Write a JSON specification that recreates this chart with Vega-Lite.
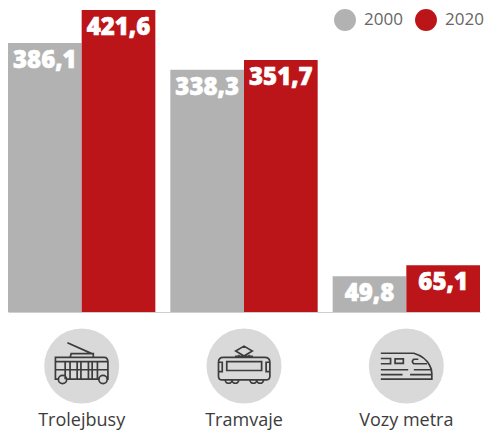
{
"$schema":"https://vega.github.io/schema/vega-lite/v6.json",
"width":472,"height":312,"padding":{"left":8,"top":0,"right":4,"bottom":119},"autosize":"none",
"background":"white",
"config":{"view":{"stroke":null},"font":"Open Sans"},
"datasets":{
"bars":[
{"typ":"Trolejbusy","rok":"2000","hodnota":375.4,"popisek":"386,1"},
{"typ":"Trolejbusy","rok":"2020","hodnota":421.6,"popisek":"421,6"},
{"typ":"Tramvaje","rok":"2000","hodnota":338.3,"popisek":"338,3"},
{"typ":"Tramvaje","rok":"2020","hodnota":351.7,"popisek":"351,7"},
{"typ":"Vozy metra","rok":"2000","hodnota":49.8,"popisek":"49,8"},
{"typ":"Vozy metra","rok":"2020","hodnota":65.1,"popisek":"65,1"}],
"icons":[{"typ":"Trolejbusy"},{"typ":"Tramvaje"},{"typ":"Vozy metra"}]},
"layer":[
{"data":{"name":"bars"},"mark":{"type":"bar","tooltip":false},
"encoding":{
"x":{"field":"typ","type":"nominal","sort":["Trolejbusy","Tramvaje","Vozy metra"],
"scale":{"paddingInner":0.0923,"paddingOuter":0},
"axis":{"title":null,"ticks":false,"labelAngle":0,"labelPadding":99,"labelFontSize":18,"labelColor":"#3c3c3c","domainColor":"#cfcfcf","domainWidth":1,"grid":false,"labelFont":"Open Sans"}},
"xOffset":{"field":"rok","type":"nominal","scale":{"paddingInner":0,"paddingOuter":0}},
"y":{"field":"hodnota","type":"quantitative","scale":{"domain":[0,435.5],"nice":false},"axis":null},
"color":{"field":"rok","type":"nominal","scale":{"domain":["2000","2020"],"range":["#b2b2b2","#bb1519"]},
"legend":{"title":null,"orient":"none","legendX":326,"legendY":9,"direction":"horizontal","symbolType":"circle","symbolSize":480,"symbolStrokeWidth":0,"labelFontSize":17,"labelColor":"#666666","labelFont":"Open Sans","columnPadding":12,"labelOffset":8}}}},
{"data":{"name":"bars"},"mark":{"type":"text","color":"white","stroke":"white","strokeWidth":0.6,"fontSize":24,"fontWeight":800,"font":"Open Sans","baseline":"middle","dy":18},
"encoding":{
"x":{"field":"typ","type":"nominal","sort":["Trolejbusy","Tramvaje","Vozy metra"],"scale":{"paddingInner":0.0923,"paddingOuter":0}},
"xOffset":{"field":"rok","type":"nominal","scale":{"paddingInner":0,"paddingOuter":0}},
"y":{"field":"hodnota","type":"quantitative","scale":{"domain":[0,435.5],"nice":false},"axis":null},
"text":{"field":"popisek"}}},
{"data":{"name":"icons"},"mark":{"type":"point","shape":"circle","filled":true,"fill":"#d9d9d9","strokeWidth":0,"size":5625,"opacity":1},
"encoding":{
"x":{"field":"typ","type":"nominal","sort":["Trolejbusy","Tramvaje","Vozy metra"],"scale":{"paddingInner":0.0923,"paddingOuter":0}},
"y":{"datum":-75.4,"type":"quantitative","scale":{"domain":[0,435.5],"nice":false},"axis":null}}},
{"data":{"name":"icons"},"mark":{"type":"point","filled":false,"stroke":"#3c3c3c","strokeWidth":1.7,"size":5625,"opacity":1},
"encoding":{
"x":{"field":"typ","type":"nominal","sort":["Trolejbusy","Tramvaje","Vozy metra"],"scale":{"paddingInner":0.0923,"paddingOuter":0}},
"y":{"datum":-75.4,"type":"quantitative","scale":{"domain":[0,435.5],"nice":false},"axis":null},
"shape":{"field":"typ","type":"nominal","legend":null,"scale":{"domain":["Trolejbusy","Tramvaje","Vozy metra"],"range":[
"M-0.62,0.35 L-0.7,0.35 L-0.7,-0.23 L0.6,-0.23 Q0.7,-0.23 0.7,-0.1 L0.7,0.35 L0.68,0.35 M-0.4,0.35 L0.46,0.35 M-0.7,-0.115 L0.7,-0.115 M-0.7,0.1 L0.7,0.1 M-0.44,-0.115 L-0.44,0.35 M-0.31,-0.115 L-0.31,0.35 M-0.12,-0.115 L-0.12,0.35 M-0.02,-0.115 L-0.02,0.35 M0.18,-0.115 L0.18,0.35 M0.28,-0.115 L0.28,0.35 M0.42,-0.115 L0.42,0.35 M-0.62,0.36 A0.11,0.11 0 1 0 -0.4,0.36 A0.11,0.11 0 1 0 -0.62,0.36 M0.46,0.36 A0.11,0.11 0 1 0 0.68,0.36 A0.11,0.11 0 1 0 0.46,0.36 M-0.31,-0.23 L-0.28,-0.33 L0.31,-0.33 L0.31,-0.23 M-0.38,-0.62 L0.27,-0.33",
"M-0.55,-0.23 L0.55,-0.23 Q0.69,-0.23 0.69,-0.1 L0.69,0.27 Q0.69,0.37 0.58,0.37 L-0.58,0.37 Q-0.68,0.37 -0.68,0.27 L-0.68,-0.1 Q-0.68,-0.23 -0.55,-0.23 Z M-0.46,-0.115 L0.47,-0.115 L0.47,0.12 L-0.46,0.12 Z M-0.68,-0.1 L-0.58,-0.1 L-0.58,0.15 L-0.68,0.15 M0.69,-0.1 L0.59,-0.1 L0.59,0.15 L0.69,0.15 M-0.5,0.37 A0.09,0.09 0 0 0 -0.32,0.37 M-0.32,0.37 A0.09,0.09 0 0 0 -0.14,0.37 M0.16,0.37 A0.09,0.09 0 0 0 0.34,0.37 M0.34,0.37 A0.09,0.09 0 0 0 0.52,0.37 M-0.24,-0.26 L0.24,-0.26 M-0.22,-0.4 L0,-0.53 L0.22,-0.4 L0,-0.27 Z M-0.14,-0.23 L-0.14,-0.3 M0.14,-0.23 L0.14,-0.3",
"M-0.68,-0.34 L0.2,-0.34 Q0.5,-0.25 0.62,-0.02 Q0.68,0.08 0.68,0.2 L0.68,0.35 L-0.68,0.35 M-0.68,-0.2 L-0.42,-0.2 L-0.42,-0.06 L-0.68,-0.06 M-0.3,-0.19 L-0.08,-0.19 L-0.08,-0.07 L-0.3,-0.07 Z M0.55,-0.06 L0.2,-0.06 Q0.12,-0.12 0.2,-0.18 L0.32,-0.18 M-0.68,0.1 L0.05,0.1 M0.2,0.1 L0.65,0.1 M-0.68,0.23 L-0.1,0.23 M0.1,0.23 L0.68,0.23"
]}}}}
]}
